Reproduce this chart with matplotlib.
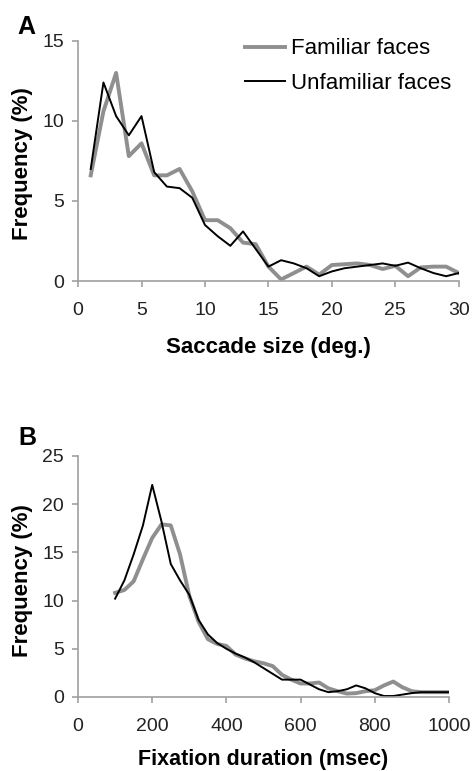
import numpy as np
import matplotlib
matplotlib.use("Agg")
import matplotlib.pyplot as plt

plt.rcParams['font.family'] = ['Liberation Sans', 'DejaVu Sans']

# panel A: saccade size (deg.)
sacc_x = np.arange(1, 31)
sacc_familiar = [6.6, 10.6, 13.0, 7.8, 8.6, 6.6, 6.6, 7.0, 5.6, 3.8,
                 3.8, 3.3, 2.4, 2.3, 0.9, 0.1, 0.5, 0.9, 0.4, 1.0,
                 1.05, 1.1, 1.0, 0.75, 0.95, 0.3, 0.85, 0.9, 0.9, 0.5]
sacc_unfamiliar = [7.0, 12.4, 10.3, 9.1, 10.3, 6.8, 5.9, 5.8, 5.2, 3.5,
                   2.8, 2.2, 3.1, 2.0, 0.9, 1.3, 1.1, 0.8, 0.3, 0.6,
                   0.8, 0.9, 1.0, 1.1, 0.95, 1.15, 0.8, 0.5, 0.3, 0.5]

# panel B: fixation duration (msec)
fix_x = np.arange(100, 1001, 25)
fix_familiar = [10.8, 11.1, 12.0, 14.3, 16.5, 17.9, 17.8, 14.8, 10.5, 7.8,
                6.0, 5.5, 5.3, 4.4, 4.0, 3.7, 3.5, 3.2, 2.3, 1.8,
                1.4, 1.4, 1.5, 0.9, 0.6, 0.35, 0.4, 0.6, 0.7, 1.2,
                1.6, 1.0, 0.6, 0.5, 0.5, 0.5, 0.5]
fix_unfamiliar = [10.2, 12.1, 14.8, 17.8, 22.0, 18.2, 13.8, 12.1, 10.6, 8.0,
                  6.5, 5.6, 5.0, 4.5, 4.1, 3.6, 3.0, 2.4, 1.8, 1.8,
                  1.8, 1.3, 0.8, 0.5, 0.6, 0.8, 1.2, 0.9, 0.4, 0.1,
                  0.1, 0.25, 0.4, 0.5, 0.5, 0.5, 0.5]

gray_col = "#8f8f8f"
spine_col = "#a0a0a0"

fig = plt.figure(figsize=(4.73, 7.71), dpi=100)
axA = fig.add_axes([0.165, 0.6355, 0.805, 0.3115])
axB = fig.add_axes([0.165, 0.096, 0.784, 0.3126])


def style(ax):
    for s in ["top", "right"]:
        ax.spines[s].set_visible(False)
    for s in ["left", "bottom"]:
        ax.spines[s].set_color(spine_col)
        ax.spines[s].set_linewidth(1.2)
    ax.tick_params(axis="both", colors=spine_col, labelcolor="#222222",
                   labelsize=14, length=4, width=1.2)
    ax.tick_params(axis="x", pad=11)
    ax.tick_params(axis="y", pad=6)


# A
axA.plot(sacc_x, sacc_familiar, color=gray_col, lw=2.8, label="Familiar faces")
axA.plot(sacc_x, sacc_unfamiliar, color="black", lw=1.4, label="Unfamiliar faces")
axA.set_xlim(0, 30)
axA.set_ylim(0, 15)
axA.set_xticks(range(0, 31, 5))
axA.set_yticks([0, 5, 10, 15])
style(axA)
axA.set_xlabel("Saccade size (deg.)", fontsize=16, fontweight="bold", va="center")
axA.xaxis.set_label_coords(0.499, -0.275)
axA.set_ylabel("Frequency (%)", fontsize=16, fontweight="bold", va="center")
axA.yaxis.set_label_coords(-0.147, 0.49)
axA.legend(loc="upper left", bbox_to_anchor=(0.438, 1.01), frameon=False,
           fontsize=16, handlelength=1.8, handletextpad=0.3,
           borderpad=0, borderaxespad=0, labelspacing=0.6)
fig.text(26 / 473, 1 - 27 / 771, "A", fontsize=18, fontweight="bold",
         ha="center", va="center")

# B
axB.plot(fix_x, fix_familiar, color=gray_col, lw=2.8)
axB.plot(fix_x, fix_unfamiliar, color="black", lw=1.4)
axB.set_xlim(0, 1000)
axB.set_ylim(0, 25)
axB.set_xticks(range(0, 1001, 200))
axB.set_yticks(range(0, 26, 5))
style(axB)
axB.set_xlabel("Fixation duration (msec)", fontsize=15.5, fontweight="bold", va="center")
axB.xaxis.set_label_coords(0.499, -0.258)
axB.set_ylabel("Frequency (%)", fontsize=16, fontweight="bold", va="center")
axB.yaxis.set_label_coords(-0.151, 0.485)
fig.text(27 / 473, 1 - 438 / 771, "B", fontsize=18, fontweight="bold",
         ha="center", va="center")

fig.savefig("out.png", dpi=100)
